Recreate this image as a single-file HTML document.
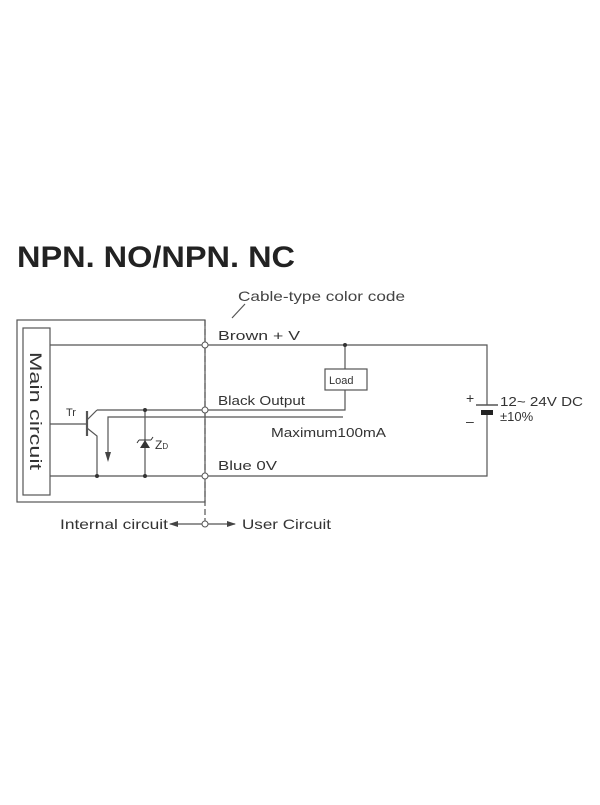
<!DOCTYPE html>
<html><head><meta charset="utf-8"><style>html,body{margin:0;padding:0;background:#fff}</style></head>
<body>
<svg width="600" height="800" xmlns="http://www.w3.org/2000/svg" font-family="Liberation Sans, Arial, sans-serif" fill="#333" xml:space="preserve">
<text x="17" y="267" font-size="30" font-weight="bold" fill="#222" textLength="278" lengthAdjust="spacingAndGlyphs">NPN. NO/NPN. NC</text>
<text x="238" y="301" font-size="14" fill="#444" textLength="167" lengthAdjust="spacingAndGlyphs">Cable-type color code</text>
<g stroke="#555" fill="none" stroke-width="1.2">
<path d="M245 304 L232 318"/>
<rect x="17" y="320" width="188" height="182"/>
<rect x="23" y="328" width="27" height="167"/>
<path d="M50 345 H487 V405"/>
<path d="M487 415 V476 H50"/>
<path d="M97 410 H345 V390"/>
<rect x="325" y="369" width="42" height="21"/>
<path d="M345 369 V345"/>
<path d="M108 460 V417 H343"/>
<path d="M50 424 H86"/>
<path d="M87 411 V436" stroke-width="2.2"/>
<path d="M87 420 L97 410"/>
<path d="M87 428 L97 436 V476"/>
<path d="M145 410 V476"/>
<path d="M205 320 V527" stroke-dasharray="6 3"/>
<path d="M476 405 H498" stroke-width="1.4"/>
<path d="M170 524 H235"/>
</g>
<path d="M227 521 L236 524 L227 527Z" fill="#444"/>
<path d="M178 521 L169 524 L178 527Z" fill="#444"/>
<path d="M105 452 L108 462 L111 452Z" fill="#444"/>
<path d="M140 448 L150 448 L145 440Z" fill="#333"/>
<path d="M139 440 L151 440 M139 440 L137 443 M151 440 L153 437" stroke="#333" fill="none"/>
<rect x="481" y="410" width="12" height="5" fill="#222"/>
<g fill="#333"><circle cx="145" cy="410" r="2"/><circle cx="145" cy="476" r="2"/><circle cx="97" cy="476" r="2"/><circle cx="345" cy="345" r="2"/></g>
<g fill="#fff" stroke="#555"><circle cx="205" cy="345" r="3"/><circle cx="205" cy="410" r="3"/><circle cx="205" cy="476" r="3"/><circle cx="205" cy="524" r="3"/></g>
<text transform="translate(30,352) rotate(90)" font-size="17" fill="#333" textLength="118" lengthAdjust="spacingAndGlyphs">Main circuit</text>
<text x="218" y="340" font-size="13" textLength="82" lengthAdjust="spacingAndGlyphs">Brown  + V</text>
<text x="218" y="405" font-size="13" textLength="87" lengthAdjust="spacingAndGlyphs">Black  Output</text>
<text x="271" y="437" font-size="13" textLength="115" lengthAdjust="spacingAndGlyphs">Maximum100mA</text>
<text x="218" y="470" font-size="13" textLength="59" lengthAdjust="spacingAndGlyphs">Blue  0V</text>
<text x="329" y="384" font-size="11">Load</text>
<text x="66" y="416" font-size="11">Tr</text>
<text x="155" y="449" font-size="12">Z<tspan font-size="8">D</tspan></text>
<text x="466" y="403" font-size="14">+</text>
<text x="466" y="426" font-size="14">–</text>
<text x="500" y="406" font-size="13" textLength="83" lengthAdjust="spacingAndGlyphs">12~ 24V DC</text>
<text x="500" y="421" font-size="13">±10%</text>
<text x="60" y="529" font-size="14" textLength="108" lengthAdjust="spacingAndGlyphs">Internal circuit</text>
<text x="242" y="529" font-size="14" textLength="89" lengthAdjust="spacingAndGlyphs">User Circuit</text>
</svg>
</body></html>
